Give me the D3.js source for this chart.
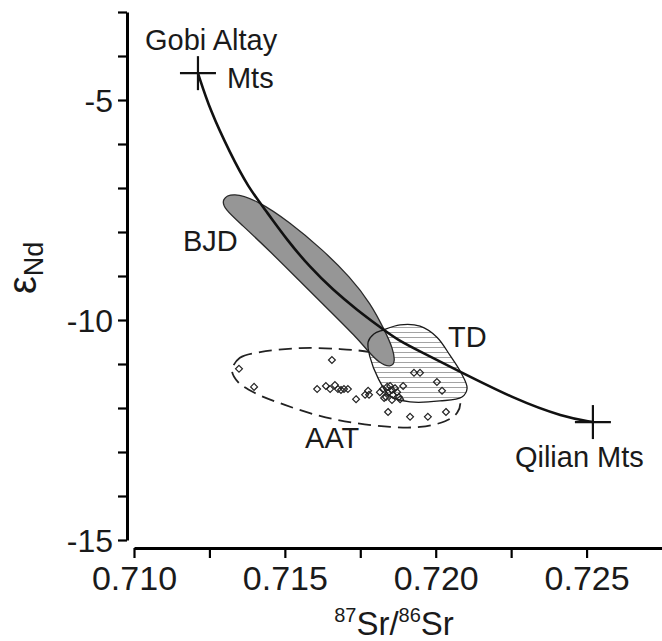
<!DOCTYPE html>
<html>
<head>
<meta charset="utf-8">
<script src="https://cdn.jsdelivr.net/npm/d3@7"></script>
<style>
  body { margin: 0; background: #fff; }
  svg { display: block; font-family: "Liberation Sans", Arial, Helvetica, sans-serif; }
</style>
</head>
<body>
<div id="plot"></div>
<script>
// end members (87Sr/86Sr, eNd)
const gobiAltay = [0.71212, -4.39];
const qilian = [0.72521, -12.32];

// mixing curve
const mixingCurve = [
  [0.71212, -4.39], [0.71252, -5.23], [0.71318, -6.20], [0.71378, -6.98],
  [0.71441, -7.55], [0.71507, -8.18], [0.71583, -8.80], [0.71660, -9.32],
  [0.71739, -9.77], [0.71815, -10.16], [0.71872, -10.45], [0.71958, -10.75],
  [0.72071, -11.14], [0.72269, -11.82], [0.72422, -12.20], [0.72521, -12.32]
];

// BJD field outline
const bjdField = [
  [0.71290, -7.25], [0.71328, -7.10], [0.71408, -7.28], [0.71517, -7.78],
  [0.71626, -8.41], [0.71716, -9.02], [0.71785, -9.63], [0.71832, -10.25],
  [0.71858, -10.65], [0.71866, -10.95], [0.71852, -11.08], [0.71812, -10.98],
  [0.71775, -10.70], [0.71735, -10.38], [0.71650, -9.80], [0.71550, -9.12],
  [0.71451, -8.44], [0.71355, -7.82], [0.71300, -7.48]
];

// TD field outline
const tdField = [
  [0.71825, -10.23], [0.71882, -10.11], [0.71948, -10.14], [0.72004, -10.39],
  [0.72047, -10.80], [0.72084, -11.20], [0.72104, -11.55], [0.72087, -11.75],
  [0.72014, -11.84], [0.71915, -11.86], [0.71849, -11.73], [0.71809, -11.32],
  [0.71782, -10.84], [0.71776, -10.50], [0.71795, -10.32]
];

// AAT field outline (dashed)
const aatField = [
  [0.71325, -11.14], [0.71351, -10.86], [0.71418, -10.73], [0.71550, -10.64],
  [0.71683, -10.66], [0.71782, -10.73], [0.71882, -10.91], [0.71981, -11.18],
  [0.72047, -11.50], [0.72081, -11.82], [0.72071, -12.11], [0.72031, -12.30],
  [0.71948, -12.43], [0.71849, -12.43], [0.71732, -12.34], [0.71616, -12.18],
  [0.71500, -11.93], [0.71401, -11.66], [0.71345, -11.41]
];

// AAT samples
const aatSamples = [
  [0.71348, -11.11], [0.71398, -11.52], [0.71656, -10.91], [0.71607, -11.57],
  [0.71636, -11.50], [0.71650, -11.57], [0.71666, -11.48], [0.71676, -11.57],
  [0.71686, -11.59], [0.71696, -11.57], [0.71709, -11.57], [0.71736, -11.80],
  [0.71766, -11.70], [0.71776, -11.61], [0.71779, -11.70], [0.71815, -11.64],
  [0.71825, -11.57], [0.71829, -11.77], [0.71839, -11.52], [0.71842, -11.66],
  [0.71849, -11.50], [0.71855, -11.59], [0.71855, -11.82], [0.71858, -11.70],
  [0.71872, -11.64], [0.71878, -11.75], [0.71882, -11.80], [0.71892, -11.50],
  [0.71928, -11.20], [0.71948, -11.20], [0.72004, -11.41], [0.72021, -11.61],
  [0.71842, -12.09], [0.71915, -12.20], [0.71974, -12.20], [0.72034, -12.09],
  [0.71835, -11.75], [0.71865, -11.55]
];

const xTicks = [0.710, 0.7125, 0.715, 0.7175, 0.720, 0.7225, 0.725];
const xTickLabels = [0.710, 0.715, 0.720, 0.725];
const yTicks = d3.range(-15, -2, 1);
const yTickLabels = [-15, -10, -5];

const width = 662;
const height = 641;

const svg = d3.select('#plot').append('svg')
  .attr('width', width)
  .attr('height', height);

const x = d3.scaleLinear().domain([0.710, 0.7275]).range([134, 662]);
const y = d3.scaleLinear().domain([-15, -3]).range([540, 12]);

// hatch for TD
const defs = svg.append('defs');
const hatch = defs.append('pattern')
  .attr('id', 'hatch')
  .attr('patternUnits', 'userSpaceOnUse')
  .attr('width', 8)
  .attr('height', 5);
hatch.append('rect').attr('width', 8).attr('height', 5).attr('fill', '#fff');
hatch.append('line')
  .attr('x1', 0).attr('x2', 8).attr('y1', 2.5).attr('y2', 2.5)
  .attr('stroke', '#999')
  .attr('stroke-width', 0.9);

// axes
const yAxis = d3.axisLeft(y)
  .tickValues(yTicks)
  .tickSize(9)
  .tickSizeOuter(0)
  .tickFormat(d => yTickLabels.includes(d) ? String(d) : '');
const yG = svg.append('g')
  .attr('transform', 'translate(127,0)')
  .call(yAxis);
yG.select('.domain').attr('stroke-width', 3);
yG.selectAll('.tick line').attr('stroke-width', 2.2);
yG.selectAll('.tick text')
  .attr('font-size', 32)
  .attr('font-family', '"Liberation Sans", Arial, sans-serif')
  .attr('fill', '#1a1a1a')
  .attr('dx', -2)
  .attr('dy', '0.36em');

const xAxis = d3.axisBottom(x)
  .tickValues(xTicks)
  .tickSize(10)
  .tickSizeOuter(0)
  .tickFormat(d => xTickLabels.includes(d) ? d3.format('.3f')(d) : '');
const xG = svg.append('g')
  .attr('transform', 'translate(0,548)')
  .call(xAxis);
xG.select('.domain').attr('stroke-width', 3);
xG.selectAll('.tick line').attr('stroke-width', 2.2);
xG.selectAll('.tick text')
  .attr('font-size', 34)
  .attr('font-family', '"Liberation Sans", Arial, sans-serif')
  .attr('fill', '#1a1a1a')
  .attr('y', 18)
  .attr('dy', '0.71em');

// axis titles
const yTitle = svg.append('text')
  .attr('transform', 'translate(36,294) rotate(-90)')
  .attr('fill', '#1a1a1a');
yTitle.append('tspan').attr('font-size', 40).text('ε');
yTitle.append('tspan').attr('font-size', 27).attr('dy', 7).text('Nd');

const xTitle = svg.append('text')
  .attr('x', 394)
  .attr('y', 635)
  .attr('text-anchor', 'middle')
  .attr('font-size', 33)
  .attr('fill', '#1a1a1a');
xTitle.append('tspan').attr('font-size', 20).attr('dy', -13).text('87');
xTitle.append('tspan').attr('dy', 13).text('Sr/');
xTitle.append('tspan').attr('font-size', 20).attr('dy', -13).text('86');
xTitle.append('tspan').attr('dy', 13).text('Sr');

// fields
const closed = d3.line()
  .x(d => x(d[0]))
  .y(d => y(d[1]))
  .curve(d3.curveCatmullRomClosed.alpha(0.5));
const smoothClosed = d3.line()
  .x(d => x(d[0]))
  .y(d => y(d[1]))
  .curve(d3.curveBasisClosed);

svg.append('path')
  .attr('d', closed(aatField))
  .attr('fill', 'none')
  .attr('stroke', '#222')
  .attr('stroke-width', 1.8)
  .attr('stroke-dasharray', '13,7');

svg.append('path')
  .attr('d', closed(tdField))
  .attr('fill', 'url(#hatch)')
  .attr('stroke', 'none');

svg.append('path')
  .attr('d', smoothClosed(bjdField))
  .attr('fill', '#969696')
  .attr('stroke', '#2a2a2a')
  .attr('stroke-width', 1.3);

svg.append('path')
  .attr('d', closed(tdField))
  .attr('fill', 'none')
  .attr('stroke', '#1a1a1a')
  .attr('stroke-width', 1.3);

// samples
const diamond = d3.symbol().type(d3.symbolDiamond2).size(30);
svg.append('g').selectAll('path').data(aatSamples)
  .enter().append('path')
    .attr('transform', d => `translate(${x(d[0])},${y(d[1])})`)
    .attr('d', diamond)
    .attr('fill', 'none')
    .attr('stroke', '#222')
    .attr('stroke-width', 1.2);

// mixing curve
const line = d3.line()
  .x(d => x(d[0]))
  .y(d => y(d[1]))
  .curve(d3.curveBasis);
svg.append('path')
  .attr('d', line(mixingCurve))
  .attr('fill', 'none')
  .attr('stroke', '#111')
  .attr('stroke-width', 2.6);

// end member crosses
const cross = (g, p) => {
  const cx = x(p[0]), cy = y(p[1]);
  g.append('line').attr('x1', cx - 18).attr('x2', cx + 18).attr('y1', cy).attr('y2', cy);
  g.append('line').attr('x1', cx).attr('x2', cx).attr('y1', cy - 17).attr('y2', cy + 17);
};
const crossG = svg.append('g').attr('stroke', '#111').attr('stroke-width', 2.2);
cross(crossG, gobiAltay);
cross(crossG, qilian);

// labels
const label = (txt, px, py) => svg.append('text')
  .attr('x', px).attr('y', py)
  .attr('font-size', 29)
  .attr('fill', '#1a1a1a')
  .text(txt);
label('Gobi Altay', x(gobiAltay[0]) - 53, y(gobiAltay[1]) - 23);
label('Mts', x(gobiAltay[0]) + 29, y(gobiAltay[1]) + 15);
label('Qilian Mts', x(qilian[0]) - 78, y(qilian[1]) + 45);
label('BJD', x(0.71162), y(-8.43));
label('TD', x(0.72041), y(-10.61));
label('AAT', x(0.71567), y(-12.91));
</script>
</body>
</html>
